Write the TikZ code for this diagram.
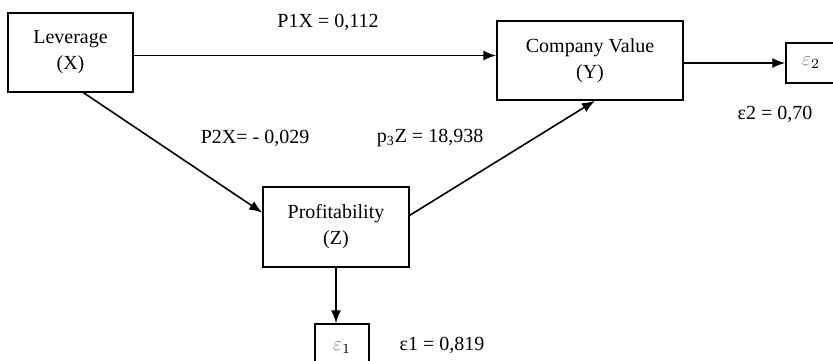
\documentclass[tikz,border=0pt]{standalone}
\usepackage{fontspec}
\setmainfont{Liberation Serif}
\usetikzlibrary{arrows.meta}

\begin{document}
\begin{tikzpicture}[x=0.5pt,y=-0.5pt,
  varbox/.style={draw,line width=0.75pt,align=center,inner sep=0pt,font=\fontsize{10}{13}\selectfont},
  errbox/.style={draw,line width=0.75pt,inner sep=0pt,font=\fontsize{10}{12}\selectfont},
  coef/.style={font=\fontsize{10}{12}\selectfont},
  arr/.style={-{Latex[length=6.5pt,width=5pt]},line width=0.8pt}]
\useasboundingbox (0,0) rectangle (833,360);
% variables
\node [varbox,minimum width=62.5pt,minimum height=39.5pt] (lev) at (70.5,52.5) {Leverage\\(X)};
\node [varbox,minimum width=93pt,minimum height=39.5pt] (cv) at (590,60.5) {Company Value\\(Y)};
\node [varbox,minimum width=73pt,minimum height=40pt] (prof) at (336,227) {Profitability\\(Z)};
% error terms
\node [errbox,minimum width=25pt,minimum height=20pt] (e2) at (811,63) {{\color{gray}$\varepsilon$}$_2$};
\node [errbox,minimum width=27pt,minimum height=24pt] (e1) at (342,348) {{\color{gray}$\varepsilon$}$_1$};
% paths
\draw [arr] ([yshift=-1.5pt]lev.east) -- ([yshift=-1.5pt]lev.east -| cv.west);
\draw [arr] (lev.-72) -- (prof.169);
\draw [arr] (prof.9) -- (cv.-83);
\draw [arr] (e2.west -| cv.east) -- (e2.west);
\draw [arr] (prof.south) -- (prof.south |- e1.north);
% coefficients
\node [coef] (c1) at (328,22) {P1X = 0,112};
\node [coef] (c2) at (255,138) {P2X= - 0,029};
\node [coef] (c3) at (430,138) {p\textsubscript{3}Z = 18,938};
\node [coef] (r2) at (775,114) {ε2 = 0,70};
\node [coef] (r1) at (442,345) {ε1 = 0,819};
\end{tikzpicture}
\end{document}
